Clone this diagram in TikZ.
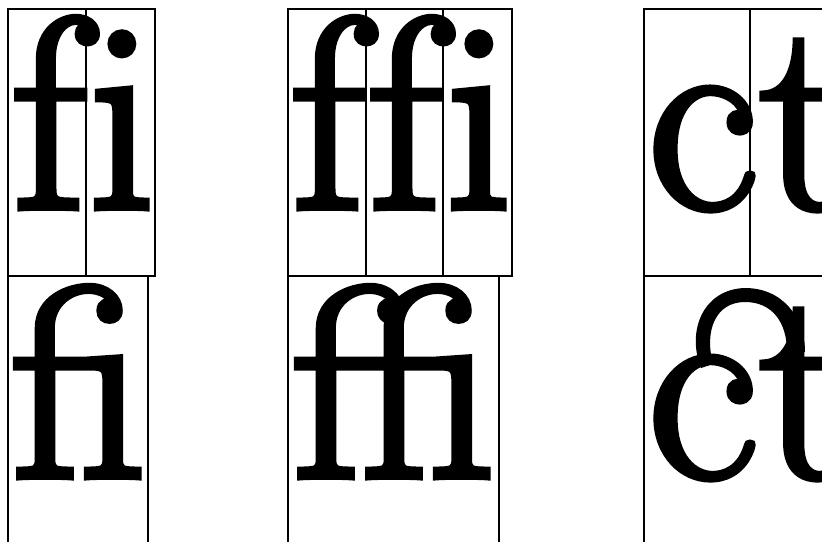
\documentclass[tikz,border=0pt]{standalone}
\usepackage{fontspec}
\newfontfamily\ligfont{Latin Modern Roman}[FakeBold=2.5]
\begin{document}
\begin{tikzpicture}[x=0.3mm, y=-0.3mm, line width=1.4pt,
  glyph/.style={inner sep=0pt, anchor=base, font=\fontsize{232}{232}\ligfont}]
  \useasboundingbox (0,0) rectangle (822,542);
  \clip (0,0) rectangle (822,542);

  % Top row: one box per letter
  \foreach \a/\b in {8/86, 86/155, 288/366, 366/443, 443/512, 644/750, 750/870} {
    \draw (\a, 9) rectangle (\b, 276);
  }
  % Bottom row: one box per ligature
  \foreach \a/\b in {8/148, 288/499, 644/880} {
    \draw (\a, 276) rectangle (\b, 600);
  }

  % Letters set apart
  \node[glyph] (f1) at (49, 208) {f};
  \node[glyph] (i1) at (122, 208) {i};
  \node[glyph] (f2) at (328, 208) {f};
  \node[glyph] (ff2) at (405, 208) {f};
  \node[glyph] (i2) at (479, 208) {i};
  \node[glyph] (c3) at (703, 208) {c};
  \node[glyph] (t3) at (808, 208) {t};

  % Ligatures
  \node[glyph] (fi) at (79, 477) {fi};
  \node[glyph] (ffi) at (394, 477) {ffi};
  \node[glyph] (c) at (703, 477) {c};
  \node[glyph] (t) at (808, 477) {t};

  % Swash joining c and t
  \fill (701, 368) .. controls (686, 330) and (704, 289) .. (745, 288)
    .. controls (783, 288) and (805, 318) .. (805, 352) -- (787, 352)
    .. controls (787, 322) and (772, 302) .. (745, 302)
    .. controls (716, 302) and (704, 330) .. (713, 364) -- cycle;
\end{tikzpicture}
\end{document}
